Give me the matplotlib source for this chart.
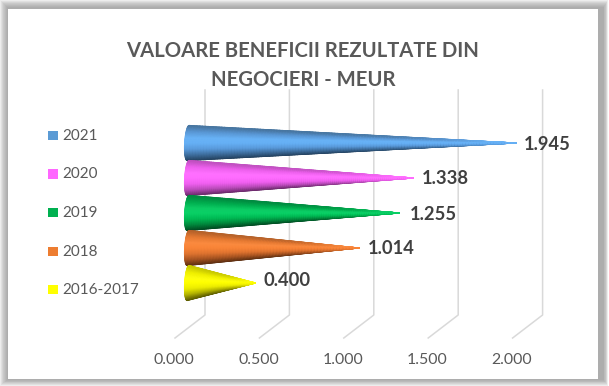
import numpy as np
import matplotlib
matplotlib.use("Agg")
import matplotlib.pyplot as plt
from matplotlib.colors import LinearSegmentedColormap
from matplotlib.patches import Rectangle

W, H = 609, 386
PX_PER_UNIT = 168.8
BASE_PX = 188
ROW_PX = 35
FIRST_ROW_PY = 283

categories = ["2016-2017", "2018", "2019", "2020", "2021"]
values = [0.400, 1.014, 1.255, 1.338, 1.945]
value_labels = ["0.400", "1.014", "1.255", "1.338", "1.945"]
ticks = [0.0, 0.5, 1.0, 1.5, 2.0]
tick_labels = ["0.000", "0.500", "1.000", "1.500", "2.000"]
legend_colors = ["#ffff00", "#ed7d31", "#00b050", "#ff66ff", "#5b9bd5"]
# bottom edge -> top edge shading of each cone
cone_shades = [
    ["#5f5f00", "#b5b500", "#eeee00", "#ffff00", "#ffff10", "#f0f000", "#c8c800"],
    ["#5e3012", "#a85522", "#df7430", "#f98437", "#fb8b40", "#e67a32", "#b5622a"],
    ["#004a22", "#008a3e", "#00bb55", "#0ad166", "#0ccc64", "#00ad4e", "#008a40"],
    ["#6a2a6a", "#bb4cbb", "#f060f0", "#ff6cff", "#ff70ff", "#ee60ee", "#c050c0"],
    ["#24425f", "#3f6f9f", "#5a9bdc", "#66b0f5", "#68b2f6", "#5a98d6", "#47759f"],
]


def py_to_row(py):
    return (FIRST_ROW_PY - py) / ROW_PX


def px_to_value(px):
    return (px - BASE_PX) / PX_PER_UNIT


def draw_frame(ax):
    # soft grey shadow round the white card, outermost ring first
    for inset, grey in [(0, 0.93), (1, 0.88), (2, 0.83), (3, 0.79), (4, 0.76), (5, 0.73), (6, 0.70), (7, 0.68)]:
        x0 = px_to_value(inset)
        x1 = px_to_value(W - inset * 0.6 - 1)
        y0 = py_to_row(H - inset * 0.8 - 0.5)
        y1 = py_to_row(inset)
        ax.add_patch(Rectangle((x0, y0), x1 - x0, y1 - y0, fc=str(grey), ec="none", zorder=0))
    x0, x1 = px_to_value(8), px_to_value(598)
    y0, y1 = py_to_row(379), py_to_row(8.5)
    ax.add_patch(Rectangle((x0, y0), x1 - x0, y1 - y0, fc="white", ec="none", zorder=1))


def draw_cone(ax, row, value, shades):
    cmap = LinearSegmentedColormap.from_list("cone", shades)
    half_h = 17.6 / ROW_PX
    ellipse = 3.4 / PX_PER_UNIT
    v = np.linspace(-1, 1, 60)
    t = np.linspace(0, 1, 120)
    V, T = np.meshgrid(v, t)
    X = value * T - ellipse * np.sqrt(1 - V**2) * (1 - T) + (1 - T) * V * 1.0 / PX_PER_UNIT
    Y = row + half_h * V * (1 - T)
    # shading flattens out near the tip so it does not end in a dark spike
    C = V * (1 - T**5)
    ax.pcolormesh(X, Y, C, cmap=cmap, shading="gouraud", vmin=-1, vmax=1, zorder=3 + (4 - row) * 0.1)


fig = plt.figure(figsize=(W / 100, H / 100), dpi=100)
ax = fig.add_axes([0, 0, 1, 1])
ax.set_xlim(px_to_value(0), px_to_value(W))
ax.set_ylim(py_to_row(H), py_to_row(0))
ax.axis("off")
plt.rcParams["font.family"] = ["Lato", "DejaVu Sans"]

draw_frame(ax)

# back wall gridlines with the short floor diagonal
wall_dx = 17 / PX_PER_UNIT
floor_dx = -13 / PX_PER_UNIT
for tick, label in zip(ticks, tick_labels):
    ax.plot(
        [tick + floor_dx, tick + wall_dx, tick + wall_dx],
        [py_to_row(338), py_to_row(315), py_to_row(90)],
        color="#d9d9d9",
        lw=1.1,
        zorder=2,
    )
    ax.text(tick + floor_dx - 1 / PX_PER_UNIT, py_to_row(360), label, ha="center", va="center",
            fontsize=11.4, color="#595959", zorder=5)

for row, (value, shades) in enumerate(zip(values, cone_shades)):
    draw_cone(ax, row, value, shades)

label_dx = {0: 8, 1: 9, 2: 10, 3: 8, 4: 8}
for row, (value, label) in enumerate(zip(values, value_labels)):
    ax.text(value + label_dx[row] / PX_PER_UNIT, row + (2.5 if row == 0 else -1) / ROW_PX, label, ha="left", va="center",
            fontsize=13.2, fontweight="bold", color="#404040", zorder=6)

legend_py = [289.5, 251.5, 212.5, 174, 135.5]
for cat, color, py in zip(categories, legend_colors, legend_py):
    row = py_to_row(py)
    ax.add_patch(Rectangle((px_to_value(48), row - 4.8 / ROW_PX), 10 / PX_PER_UNIT, 9.6 / ROW_PX,
                           fc=color, ec="none", zorder=5))
    ax.text(px_to_value(62), py_to_row(py + 0.5), cat, ha="left", va="center", fontsize=11, color="#595959", zorder=5)

ax.text(px_to_value(303), py_to_row(51), "VALOARE BENEFICII REZULTATE DIN", ha="center", va="center",
        fontsize=14.6, fontweight="bold", color="#595959", zorder=5)
ax.text(px_to_value(303), py_to_row(80), "NEGOCIERI - MEUR", ha="center", va="center",
        fontsize=14.6, fontweight="bold", color="#595959", zorder=5)

fig.savefig("out.png", dpi=100)
plt.close(fig)
